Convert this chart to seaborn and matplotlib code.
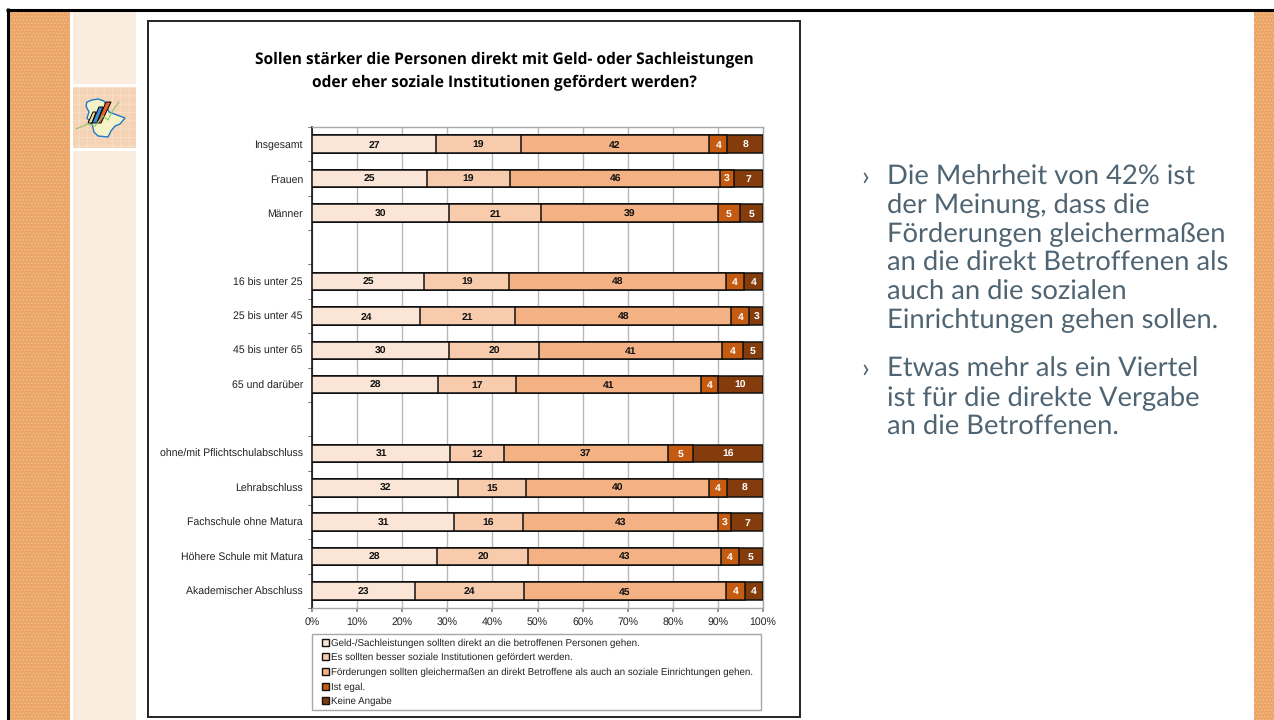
import numpy as np
import pandas as pd
import matplotlib
matplotlib.use('Agg')
import matplotlib.pyplot as plt
from matplotlib.patches import Rectangle, Polygon, Patch
import seaborn as sns

categories = ['Insgesamt', 'Frauen', 'Männer', ' ',
              '16 bis unter 25', '25 bis unter 45', '45 bis unter 65', '65 und darüber', '  ',
              'ohne/mit Pflichtschulabschluss', 'Lehrabschluss', 'Fachschule ohne Matura',
              'Höhere Schule mit Matura', 'Akademischer Abschluss']

# segment widths (percent)
direkt = [27.5, 25.4, 30.4, np.nan, 24.9, 24.0, 30.4, 28.0, np.nan, 30.7, 32.4, 31.5, 27.8, 22.9]
institutionen = [18.8, 18.6, 20.4, np.nan, 18.8, 21.0, 19.9, 17.2, np.nan, 11.8, 15.1, 15.3, 20.2, 24.0]
gleich = [41.8, 46.5, 39.2, np.nan, 48.0, 48.0, 40.7, 41.1, np.nan, 36.5, 40.5, 43.2, 42.6, 44.8]
egal = [4.0, 3.0, 4.8, np.nan, 4.1, 4.0, 4.5, 3.7, np.nan, 5.4, 4.0, 3.0, 4.1, 4.3]
keine = [7.9, 6.5, 5.2, np.nan, 4.2, 3.0, 4.5, 10.0, np.nan, 15.6, 8.0, 7.0, 5.3, 4.0]

# printed labels
lab_direkt = [27, 25, 30, None, 25, 24, 30, 28, None, 31, 32, 31, 28, 23]
lab_inst = [19, 19, 21, None, 19, 21, 20, 17, None, 12, 15, 16, 20, 24]
lab_gleich = [42, 46, 39, None, 48, 48, 41, 41, None, 37, 40, 43, 43, 45]
lab_egal = [4, 3, 5, None, 4, 4, 4, 4, None, 5, 4, 3, 4, 4]
lab_keine = [8, 7, 5, None, 4, 3, 5, 10, None, 16, 8, 7, 5, 4]

legend_labels = ['Geld-/Sachleistungen sollten direkt an die betroffenen Personen gehen.',
                 'Es sollten besser soziale Institutionen gefördert werden.',
                 'Förderungen sollten gleichermaßen an direkt Betroffene als auch an soziale Einrichtungen gehen.',
                 'Ist egal.',
                 'Keine Angabe']
colors = ['#FBE5D6', '#F8CBAD', '#F4B183', '#C55A11', '#843C0C']
x_ticks = list(range(0, 101, 10))

W, H = 1274, 720
sns.set_theme(style='white')
plt.rcParams['font.family'] = ['Liberation Sans', 'DejaVu Sans']
plt.rcParams['text.hinting'] = 'no_hinting'
plt.rcParams['hatch.linewidth'] = 0.6

fig = plt.figure(figsize=(W / 100, H / 100), dpi=100, facecolor='white')


def box(x0, y0, x1, y1):
    # pixel box (top-left origin) to figure fractions
    return [x0 / W, 1 - y1 / H, (x1 - x0) / W, (y1 - y0) / H]


bg = fig.add_axes([0, 0, 1, 1])
bg.set_xlim(0, W)
bg.set_ylim(H, 0)
bg.axis('off')

# slide decoration
bg.add_patch(Rectangle((9, 11), 61, 709, fc='#EBA566', ec='#F3C197', hatch='.....', lw=0))
bg.add_patch(Rectangle((1254, 11), 20, 709, fc='#EBA566', ec='#F3C197', hatch='.....', lw=0))
bg.add_patch(Rectangle((73, 11), 63, 73, fc='#FAEDE0', lw=0))
bg.add_patch(Rectangle((73, 87), 63, 61, fc='#F5D3B5', ec='#F8E0CC', hatch='++', lw=0))
bg.add_patch(Rectangle((73, 151), 63, 569, fc='#FAEDE0', lw=0))
bg.plot([6, W], [9.5, 9.5], color='black', lw=2.2, solid_capstyle='butt')
bg.plot([7.5, 7.5], [8, H], color='black', lw=2.2, solid_capstyle='butt')

# small map icon
bg.add_patch(Polygon([(87, 102), (92, 100), (98, 99), (104, 101), (106, 105), (109, 112), (117, 115),
                      (125, 118), (120, 124), (115, 126), (111, 131), (108, 137), (98, 136),
                      (94, 132), (92, 124), (87, 118), (89, 112), (86, 106)],
                     fc='#F7F3C8', ec='#1F78C8', lw=1))
bg.plot([76, 88, 95, 103, 108, 113, 119], [129, 124, 126, 116, 120, 110, 102], color='#8CC864', lw=0.8)
bg.add_patch(Polygon([(88, 123), (92, 123), (96, 112), (93, 112)], fc='#F7D98A', ec='black', lw=0.7))
bg.add_patch(Polygon([(92, 123), (97, 123), (103, 107), (99, 107)], fc='#3C8CD8', ec='black', lw=0.7))
bg.add_patch(Polygon([(97, 123), (101, 123), (111, 102), (106, 102)], fc='#E8642A', ec='black', lw=0.7))

# chart frame
bg.add_patch(Rectangle((147.5, 20.5), 652, 696, fc='white', ec='#222222', lw=1.4))
bg.text(504, 60, 'Sollen stärker die Personen direkt mit Geld- oder Sachleistungen', ha='center', va='center',
        family='Open Sans', fontweight='bold', fontsize=11.2, color='black')
bg.text(504, 83, 'oder eher soziale Institutionen gefördert werden?', ha='center', va='center',
        family='Open Sans', fontweight='bold', fontsize=11.2, color='black')

# right hand text
text_color = '#4F6472'
bullets = [(184.3, ['Die Mehrheit von 42% ist', 'der Meinung, dass die', 'Förderungen gleichermaßen',
                    'an die direkt Betroffenen als', 'auch an die sozialen', 'Einrichtungen gehen sollen.']),
           (377, ['Etwas mehr als ein Viertel', 'ist für die direkte Vergabe', 'an die Betroffenen.'])]
for y0, lines in bullets:
    bg.text(861, y0, '›', fontsize=19.7, family='Lato', color=text_color, va='baseline')
    for i, line in enumerate(lines):
        bg.text(887, y0 + i * 28.8, line, fontsize=19.7, family='Lato', color=text_color, va='baseline')

# legend frame
bg.add_patch(Rectangle((312, 634), 449, 75.5, fc='white', ec='#A8A8A8', lw=1))

# stacked bars: cumulative totals drawn from longest to shortest
ax = fig.add_axes(box(312, 127, 763, 608))
ax.patch.set_alpha(0)
df = pd.DataFrame({'cat': categories, 'a': direkt, 'b': institutionen, 'c': gleich, 'd': egal, 'e': keine})
cum = df[['a', 'b', 'c', 'd', 'e']].cumsum(axis=1)
for i, col in reversed(list(enumerate(['a', 'b', 'c', 'd', 'e']))):
    sns.barplot(x=cum[col].values, y=df['cat'], order=categories, orient='h', color=colors[i], saturation=1,
                width=0.51, edgecolor='#111111', linewidth=1.1, errorbar=None, ax=ax, zorder=3 + (5 - i) * 0.1)

# value labels
label_sets = [lab_direkt, lab_inst, lab_gleich, lab_egal, lab_keine]
for i, (col, labs) in enumerate(zip(['a', 'b', 'c', 'd', 'e'], label_sets)):
    for k, lab in enumerate(labs):
        if lab is None:
            continue
        end = cum[col].iloc[k]
        mid = end - df[col].iloc[k] / 2
        ax.text(mid, k + 0.03, str(lab), ha='center', va='center', fontsize=7.5, fontweight='bold',
                color='white' if i >= 3 else '#111111', zorder=5)

ax.set_xlim(0, 100)
ax.set_ylim(len(categories) - 0.5, -0.5)
ax.set_xlabel('')
ax.set_ylabel('')
ax.set_xticks(x_ticks)
ax.set_xticklabels([f'{t}%' for t in x_ticks], fontsize=7.6, color='#222222')
ax.set_yticks(np.arange(len(categories)))
ax.set_yticklabels(categories, fontsize=7.6, color='#222222')
ax.xaxis.grid(True, color='#B8B8B8', lw=1)
ax.yaxis.grid(False)
ax.set_axisbelow(True)
ax.tick_params(axis='y', length=0, pad=6.5)
ax.tick_params(axis='x', length=3, color='#888888', pad=3.5, bottom=True)
for y in np.arange(-0.5, len(categories)):
    ax.plot([-0.9, 0], [y, y], color='#888888', lw=0.8, clip_on=False, zorder=2)
ax.spines['left'].set_color('black')
ax.spines['left'].set_linewidth(1.1)
for s in ['top', 'right', 'bottom']:
    ax.spines[s].set_color('#A8A8A8')
    ax.spines[s].set_linewidth(1)

# legend inside the frame
handles = [Patch(fc=c, ec='#111111', lw=1.0) for c in colors]
leg = fig.legend(handles, legend_labels, loc='upper left', bbox_to_anchor=box(320.5, 636.5, 762, 709),
                 fontsize=7.05, handlelength=0.7, handleheight=0.7, handletextpad=0.2, labelspacing=0.54,
                 borderpad=0.2, borderaxespad=0, frameon=False, labelcolor='#222222')

fig.savefig('out.png', dpi=100)
